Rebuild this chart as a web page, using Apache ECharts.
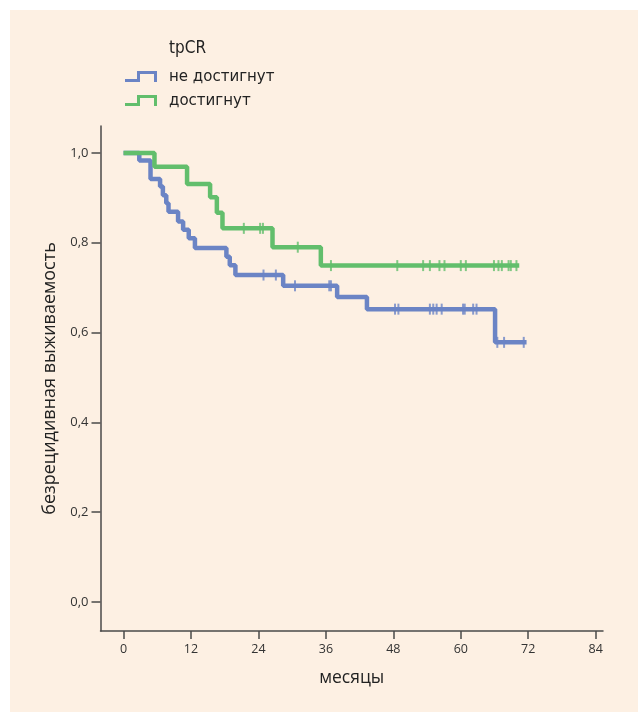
<!DOCTYPE html>
<html>
<head>
<meta charset="utf-8">
<script src="https://cdn.jsdelivr.net/npm/echarts@6/dist/echarts.min.js"></script>
<style>
html, body { margin: 0; background: #fff; }
#chart { position: absolute; left: 10px; top: 10px; width: 628px; height: 702px; }
</style>
</head>
<body>
<div id="chart"></div>
<script>
// оси
const xTicks = [0, 12, 24, 36, 48, 60, 72, 84];
const yTicks = [0, 0.2, 0.4, 0.6, 0.8, 1.0];

// tpCR не достигнут
const blueTimes = [0, 2.8, 4.8, 6.5, 7.0, 7.6, 8.0, 9.7, 10.6, 11.6, 12.7, 18.3, 18.9, 19.9, 28.4, 38.0, 43.3, 66.1, 71.7];
const blueSurv  = [1, 0.983, 0.942, 0.925, 0.906, 0.888, 0.869, 0.847, 0.829, 0.81, 0.788, 0.769, 0.75, 0.728, 0.704, 0.679, 0.652, 0.578, 0.578];
const blueCensor = [24.9, 27.1, 30.5, 36.6, 36.9, 48.3, 48.9, 54.5, 55.1, 55.7, 56.6, 60.4, 60.7, 62.2, 62.8, 66.5, 67.7, 71.2];

// tpCR достигнут
const greenTimes = [0, 5.5, 11.3, 15.4, 16.6, 17.6, 26.5, 35.1, 70.4];
const greenSurv  = [1, 0.969, 0.931, 0.901, 0.867, 0.832, 0.79, 0.749, 0.749];
const greenCensor = [21.4, 24.3, 24.8, 31.0, 36.9, 48.7, 53.3, 54.5, 56.2, 57.1, 60.0, 60.9, 65.9, 66.7, 67.3, 68.5, 68.9, 69.9];

const BLUE = '#6b84c5';
const GREEN = '#62be6c';
const AXIS = '#4a4a4a';

// уровень кривой в момент t (для засечек цензурирования)
const survAt = (times, surv, t) => {
    let s = surv[0];
    for (let i = 0; i < times.length; i++) {
        if (times[i] <= t) s = surv[i];
    }
    return s;
};

const stepData = (times, surv) => times.map((t, i) => [t, surv[i]]);
const censorData = (times, surv, cens) => cens.map(t => [t, survAt(times, surv, t)]);

const legendIcon = 'path://M0,8L12,8L12,0L32,0L32,11L29,11L29,3L15,3L15,11L0,11Z';

const chart = echarts.init(document.getElementById('chart'));

const option = {
    backgroundColor: '#fdf0e3',
    animation: false,
    textStyle: { fontFamily: 'Open Sans' },
    title: {
        text: 'tpCR',
        left: 154,
        top: 25,
        textStyle: { fontFamily: 'DejaVu Sans Condensed', fontSize: 17, fontWeight: 'normal', color: '#222' }
    },
    legend: {
        data: ['не достигнут', 'достигнут'],
        orient: 'vertical',
        left: 110,
        top: 53,
        itemWidth: 32,
        itemHeight: 11,
        itemGap: 7,
        icon: legendIcon,
        itemStyle: { borderWidth: 0 },
        lineStyle: { width: 0 },
        textStyle: { fontFamily: 'DejaVu Sans Condensed', fontSize: 16.7, color: '#222', padding: [0, 0, 0, 7] }
    },
    grid: { left: 90.5, top: 116, right: 35, bottom: 81 },
    xAxis: {
        type: 'value',
        min: -4.1,
        max: 85.3,
        name: 'месяцы',
        nameLocation: 'middle',
        nameGap: 38,
        nameTextStyle: { fontSize: 17.5, color: '#222' },
        splitLine: { show: false },
        axisLine: { onZero: false, lineStyle: { color: AXIS, width: 1.5 } },
        axisTick: { customValues: xTicks, length: 8, lineStyle: { color: AXIS, width: 1.5 } },
        axisLabel: { customValues: xTicks, margin: 12, fontSize: 12.5, color: '#333' }
    },
    yAxis: {
        type: 'value',
        min: -0.065,
        max: 1.06,
        name: 'безрецидивная выживаемость',
        nameLocation: 'middle',
        nameGap: 40,
        nameTextStyle: { fontSize: 18, color: '#222' },
        splitLine: { show: false },
        axisLine: { show: true, onZero: false, lineStyle: { color: AXIS, width: 1.5 } },
        axisTick: { show: true, customValues: yTicks, length: 9, lineStyle: { color: AXIS, width: 1.5 } },
        axisLabel: {
            customValues: yTicks, margin: 12, fontSize: 13, color: '#333',
            formatter: v => v.toFixed(1).replace('.', ',')
        }
    },
    series: [
        {
            name: 'не достигнут',
            type: 'line',
            step: 'end',
            data: stepData(blueTimes, blueSurv),
            showSymbol: false,
            lineStyle: { color: BLUE, width: 4.5 },
            itemStyle: { color: BLUE },
            z: 2
        },
        {
            name: 'достигнут',
            type: 'line',
            step: 'end',
            data: stepData(greenTimes, greenSurv),
            showSymbol: false,
            lineStyle: { color: GREEN, width: 4.5 },
            itemStyle: { color: GREEN },
            z: 3
        },
        {
            name: 'blueCensor',
            type: 'scatter',
            data: censorData(blueTimes, blueSurv, blueCensor),
            symbol: 'rect',
            symbolSize: [2, 11],
            itemStyle: { color: BLUE },
            z: 4
        },
        {
            name: 'greenCensor',
            type: 'scatter',
            data: censorData(greenTimes, greenSurv, greenCensor),
            symbol: 'rect',
            symbolSize: [2, 11],
            itemStyle: { color: GREEN },
            z: 4
        }
    ]
};

chart.setOption(option);
</script>
</body>
</html>
